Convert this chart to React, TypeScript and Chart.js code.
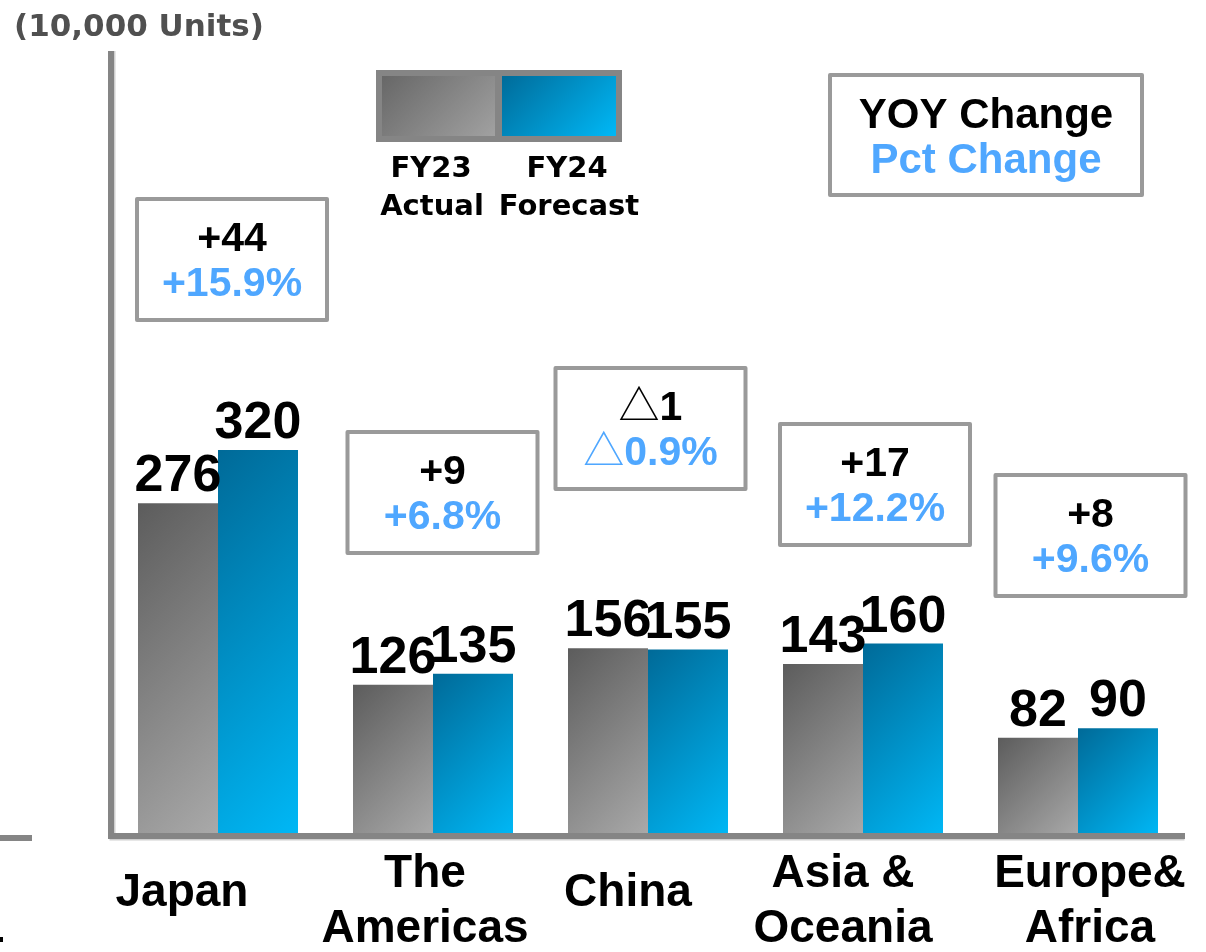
import React, { useEffect, useRef } from 'react';
import { Chart, registerables } from 'chart.js';

Chart.register(...registerables);

// ---------- data ----------
const categories = ['Japan', 'The Americas', 'China', 'Asia & Oceania', 'Europe& Africa'];
const categoryLines = [['Japan'], ['The', 'Americas'], ['China'], ['Asia &', 'Oceania'], ['Europe&', 'Africa']];
const fy23Actual = [276, 126, 156, 143, 82];
const fy24Forecast = [320, 135, 155, 160, 90];
const yoyChange = ['+44', '+9', '△1', '+17', '+8'];
const pctChange = ['+15.9%', '+6.8%', '△0.9%', '+12.2%', '+9.6%'];
const seriesLabels = [['FY23', 'Actual'], ['FY24', 'Forecast']];
const unitLabel = '(10,000 Units)';
const keyLines = ['YOY Change', 'Pct Change'];
const yMin = 0;
const yMax = 650;

// ---------- layout / style ----------
const W = 1206;
const H = 952;
const CAT_PCT = 160 / 215;
const LABEL_DX = [-36, -8, -20, -20, 12];
const BOX_DX = [14, 9.5, 2.5, 12, 12.5];
const BOX_TOP = [197, 430, 366, 422, 473];
const BOX_W = 194;
const BOX_H = 125;
const ARIAL = '"Liberation Sans", Arial, sans-serif';
const VERD = '"DejaVu Sans", Verdana, sans-serif';
const BLUE_TXT = '#4FA7FF';
const GRAY0 = '#5c5c5c';
const GRAY1 = '#aaaaaa';
const BLUE0 = '#006a98';
const BLUE1 = '#00b8f6';
const AXIS = '#858585';
const BOX_BORDER = '#9a9a9a';

function diagGradient(ctx: CanvasRenderingContext2D, x: number, y: number, w: number, h: number, c0: string, c1: string) {
  const d = (w + h) / 2;
  const g = ctx.createLinearGradient(x, y, x + d, y + d);
  g.addColorStop(0, c0);
  g.addColorStop(1, c1);
  return g;
}

function barFill(c: any, dsIndex: number, c0: string, c1: string) {
  const chart = c.chart;
  if (c.type !== 'data' || !chart.chartArea) return c1;
  const xs = chart.scales.x;
  const ys = chart.scales.y;
  if (!xs || !ys) return c1;
  const center = xs.getPixelForValue(c.dataIndex);
  const catW = (xs.right - xs.left) / categories.length;
  const bw = (catW * CAT_PCT) / 2;
  const left = dsIndex === 0 ? center - bw : center;
  const top = ys.getPixelForValue(c.raw);
  const bottom = ys.getPixelForValue(0);
  return diagGradient(chart.ctx, left, top, bw, bottom - top, c0, c1);
}

function drawMixed(ctx: CanvasRenderingContext2D, text: string, cx: number, y: number, size: number, color: string) {
  const runs: { t: string; font: string }[] = [];
  const bold = `bold ${size}px ${ARIAL}`;
  const tri = `${size}px "Noto Sans CJK JP", "DejaVu Sans", sans-serif`;
  for (const ch of text) {
    const f = ch === '△' ? tri : bold;
    if (runs.length && runs[runs.length - 1].font === f) runs[runs.length - 1].t += ch;
    else runs.push({ t: ch, font: f });
  }
  let total = 0;
  const widths = runs.map((r) => {
    ctx.font = r.font;
    const w = ctx.measureText(r.t).width;
    total += w;
    return w;
  });
  let x = cx - total / 2;
  ctx.fillStyle = color;
  ctx.textAlign = 'left';
  ctx.textBaseline = 'alphabetic';
  runs.forEach((r, i) => {
    ctx.font = r.font;
    ctx.fillText(r.t, x, y);
    x += widths[i];
  });
}

const decor = {
  id: 'decor',
  afterDatasetsDraw(chart: any) {
    const ctx: CanvasRenderingContext2D = chart.ctx;
    const xs = chart.scales.x;
    const ys = chart.scales.y;
    const area = chart.chartArea;
    const base = ys.getPixelForValue(0);
    ctx.save();

    // axes
    ctx.fillStyle = AXIS;
    ctx.fillRect(area.left - 2.5, area.top, 6, base - area.top + 2);
    ctx.fillRect(area.left - 2.5, base - 4, area.right - area.left + 2, 6);
    ctx.fillStyle = '#cfcfcf';
    ctx.fillRect(area.left + 3.5, area.top, 1.5, base - area.top - 4);
    ctx.fillRect(area.left - 1, base + 2, area.right - area.left, 1.5);
    // stub at far left
    ctx.fillStyle = AXIS;
    ctx.fillRect(0, base - 2, 32, 6);
    ctx.fillStyle = '#000';
    ctx.fillRect(0, 937, 3, 5);

    // value labels
    ctx.fillStyle = '#000';
    ctx.font = `bold 52px ${ARIAL}`;
    ctx.textAlign = 'center';
    ctx.textBaseline = 'alphabetic';
    chart.data.datasets.forEach((ds: any, di: number) => {
      const meta = chart.getDatasetMeta(di);
      meta.data.forEach((el: any, i: number) => {
        ctx.fillText(String(ds.data[i]), el.x, el.y - 12);
      });
    });

    // category labels
    ctx.font = `bold 46px ${ARIAL}`;
    categoryLines.forEach((lines, i) => {
      const cx = xs.getPixelForValue(i) + LABEL_DX[i];
      if (lines.length === 1) {
        ctx.fillText(lines[0], cx, base + 69);
      } else {
        ctx.fillText(lines[0], cx, base + 50);
        ctx.fillText(lines[1], cx, base + 105);
      }
    });

    // change boxes
    yoyChange.forEach((t, i) => {
      const cx = xs.getPixelForValue(i) + BOX_DX[i];
      const top = BOX_TOP[i];
      ctx.fillStyle = '#fff';
      ctx.fillRect(cx - BOX_W / 2 + 2, top + 2, BOX_W - 4, BOX_H - 4);
      ctx.strokeStyle = BOX_BORDER;
      ctx.lineWidth = 4;
      ctx.lineJoin = 'round';
      ctx.strokeRect(cx - BOX_W / 2 + 2, top + 2, BOX_W - 4, BOX_H - 4);
      drawMixed(ctx, t, cx, top + 54, 41, '#000');
      drawMixed(ctx, pctChange[i], cx, top + 99, 41, BLUE_TXT);
    });

    // key box (YOY / Pct)
    ctx.fillStyle = '#fff';
    ctx.fillRect(830, 75, 312, 120);
    ctx.strokeStyle = BOX_BORDER;
    ctx.lineWidth = 4;
    ctx.strokeRect(830, 75, 312, 120);
    drawMixed(ctx, keyLines[0], 986, 128, 42, '#000');
    drawMixed(ctx, keyLines[1], 986, 173, 42, BLUE_TXT);

    // series legend swatches
    ctx.fillStyle = diagGradient(ctx, 382, 76, 116, 60, '#676767', '#a2a2a2');
    ctx.fillRect(382, 76, 116, 60);
    ctx.fillStyle = diagGradient(ctx, 499, 76, 117, 60, BLUE0, BLUE1);
    ctx.fillRect(499, 76, 117, 60);
    ctx.strokeStyle = AXIS;
    ctx.lineWidth = 6;
    ctx.lineJoin = 'miter';
    ctx.strokeRect(379, 73, 240, 66);
    ctx.fillStyle = AXIS;
    ctx.fillRect(495, 73, 7, 66);

    ctx.fillStyle = '#000';
    ctx.font = `bold 29px ${VERD}`;
    ctx.textAlign = 'center';
    ctx.fillText(seriesLabels[0][0], 431, 177);
    ctx.fillText(seriesLabels[0][1], 432, 215);
    ctx.fillText(seriesLabels[1][0], 567, 177);
    ctx.fillText(seriesLabels[1][1], 569, 215);

    // unit label
    ctx.fillStyle = '#505050';
    ctx.font = `bold 31px ${VERD}`;
    ctx.textAlign = 'left';
    ctx.fillText(unitLabel, 14, 36);

    ctx.restore();
  },
};

export default function App() {
  const ref = useRef<HTMLCanvasElement | null>(null);
  useEffect(() => {
    if (!ref.current) return;
    const chart = new Chart(ref.current, {
      type: 'bar',
      data: {
        labels: categories,
        datasets: [
          {
            label: seriesLabels[0].join(' '),
            data: fy23Actual,
            backgroundColor: (c: any) => barFill(c, 0, GRAY0, GRAY1),
            borderWidth: 0,
            categoryPercentage: CAT_PCT,
            barPercentage: 1,
          },
          {
            label: seriesLabels[1].join(' '),
            data: fy24Forecast,
            backgroundColor: (c: any) => barFill(c, 1, BLUE0, BLUE1),
            borderWidth: 0,
            categoryPercentage: CAT_PCT,
            barPercentage: 1,
          },
        ],
      },
      options: {
        responsive: false,
        animation: false,
        layout: { padding: { left: 110.5, right: 20.5, top: 51, bottom: 115 } },
        scales: {
          x: { display: false },
          y: { display: false, min: yMin, max: yMax },
        },
        plugins: {
          legend: { display: false },
          tooltip: { enabled: false },
        },
      },
      plugins: [decor],
    } as any);
    return () => chart.destroy();
  }, []);
  return (
    <div style={{ position: 'absolute', left: 0, top: 0, width: W, height: H, background: '#fff' }}>
      <canvas ref={ref} width={W} height={H} style={{ display: 'block', width: W, height: H }} />
    </div>
  );
}
